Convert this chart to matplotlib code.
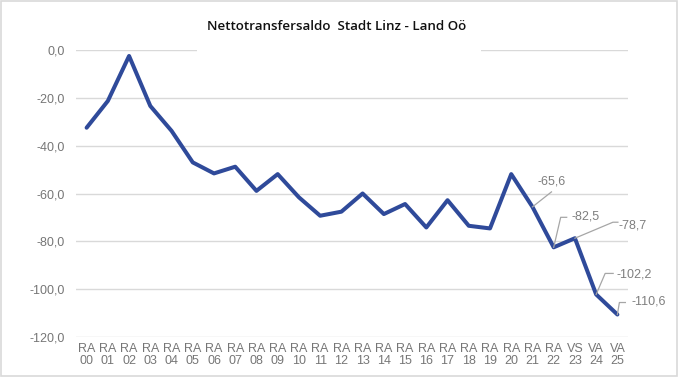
import matplotlib
matplotlib.use('Agg')
import matplotlib.pyplot as plt
from matplotlib.patches import Rectangle
from matplotlib.lines import Line2D
from matplotlib.transforms import IdentityTransform

# Daten
kategorien = ['RA\n00', 'RA\n01', 'RA\n02', 'RA\n03', 'RA\n04', 'RA\n05', 'RA\n06', 'RA\n07',
              'RA\n08', 'RA\n09', 'RA\n10', 'RA\n11', 'RA\n12', 'RA\n13', 'RA\n14', 'RA\n15',
              'RA\n16', 'RA\n17', 'RA\n18', 'RA\n19', 'RA\n20', 'RA\n21', 'RA\n22', 'VS\n23',
              'VA\n24', 'VA\n25']
saldo = [-32.5, -21.3, -2.5, -23.4, -33.8, -47.0, -51.6, -48.8, -58.9, -51.9, -61.6, -69.3,
         -67.6, -60.0, -68.6, -64.4, -74.2, -62.8, -73.5, -74.6, -51.9, -65.6, -82.5, -78.7,
         -102.2, -110.6]
y_ticks = [0, -20, -40, -60, -80, -100, -120]
titel = 'Nettotransfersaldo  Stadt Linz - Land Oö'

# Beschriftete Punkte: Index -> (Knick dx, dy, Ende dx, Text dx, dy) in Pixel (Bild-y nach unten)
label_pos = {
    21: ((19, -15), (19, -15), (0, -10), 'center'),
    22: ((7, -30), (13, -30), (18, -31), 'left'),
    23: ((38, -16), (43, -16), (44, -13), 'left'),
    24: ((9, -21), (17, -21), (20, -20), 'left'),
    25: ((2, -12), (8, -12), (14, -13), 'left'),
}

def fmt(v):
    return f'{v:.1f}'.replace('.', ',')

plt.rcParams['font.family'] = ['Liberation Sans', 'DejaVu Sans']

W, H = 680, 377
fig = plt.figure(figsize=(W / 100, H / 100), dpi=100)
ax = fig.add_axes([76 / W, 1 - 337 / H, (628 - 76) / W, (337 - 50) / H])

x = list(range(len(saldo)))
ax.plot(x, saldo, color='#2F4A9A', lw=2.9, solid_joinstyle='round', solid_capstyle='round', zorder=3)

ax.set_xlim(-0.5, len(saldo) - 0.5)
ax.set_ylim(-120, 0)
ax.set_yticks(y_ticks)
ax.set_yticklabels([fmt(v) for v in y_ticks])
ax.set_xticks(x)
ax.set_xticklabels(kategorien, linespacing=1.05)
ax.tick_params(length=0, colors='#767676', labelsize=9)
ax.tick_params(axis='y', pad=8)
ax.tick_params(axis='x', pad=4)
ax.grid(axis='y', color='#d9d9d9', lw=1.0)
ax.set_axisbelow(True)
for s in ax.spines.values():
    s.set_visible(False)

# Titel mit weissem Hintergrund (unterbricht die 0-Linie)
ax.add_patch(Rectangle((197 / W, 1 - 55 / H), (481 - 197) / W, 42 / H, transform=fig.transFigure,
                       facecolor='white', edgecolor='none', clip_on=False, zorder=2))
fig.text(337 / W, 1 - 26.5 / H, titel, ha='center', va='center', fontsize=9.6,
         family=['Open Sans', 'DejaVu Sans'], weight='semibold', color='#111111')

# Datenbeschriftungen mit Fuehrungslinien
fig.canvas.draw()
for i, (knick, ende, txt, ha) in label_pos.items():
    px, py = ax.transData.transform((i, saldo[i]))
    xs = [px, px + knick[0], px + ende[0]]
    ys = [py, py - knick[1], py - ende[1]]
    ax.add_line(Line2D(xs, ys, transform=IdentityTransform(), color='#a6a6a6', lw=0.9,
                       clip_on=False, zorder=4))
    tx = px + (ende[0] if ha == 'center' else txt[0])
    ty = py - (ende[1] + txt[1] if ha == 'center' else txt[1])
    ax.text(tx, ty, fmt(saldo[i]), transform=IdentityTransform(), ha=ha, va='center',
            fontsize=9, color='#7f7f7f', clip_on=False, zorder=5)

# Rahmen des Diagrammbereichs
fig.patches.append(Rectangle((0.002, 0.003), 0.994, 0.994, transform=fig.transFigure,
                             facecolor='none', edgecolor='#d9d9d9', lw=1.2))

fig.savefig('out.png', dpi=100)
